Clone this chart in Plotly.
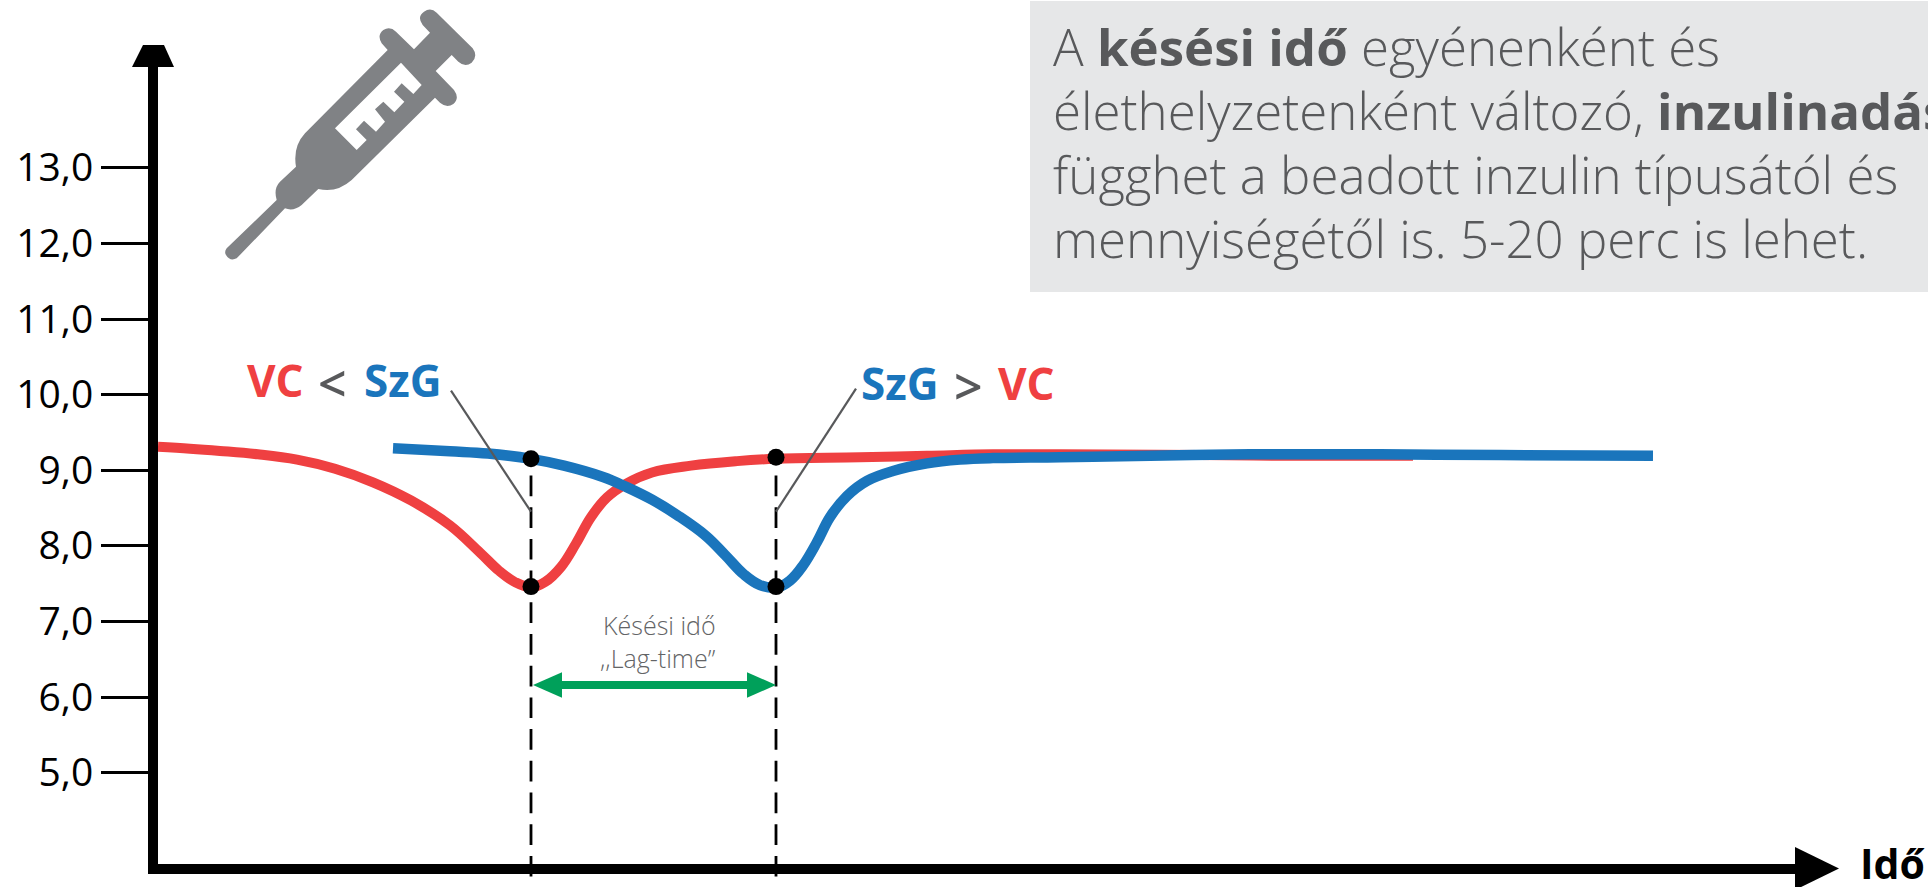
import plotly.graph_objects as go

# ---- data (x = time position, y = value) ----
tick_vals = [5, 6, 7, 8, 9, 10, 11, 12, 13]
tick_text = ["5,0", "6,0", "7,0", "8,0", "9,0", "10,0", "11,0", "12,0", "13,0"]

vc_x = [158, 190, 220, 258, 297, 335, 373, 411, 450, 480, 499, 515, 531, 545, 561, 576, 591, 607, 626, 652,
        691, 737, 775, 860, 927, 993, 1060, 1200, 1300, 1413]
vc_y = [9.31, 9.285, 9.255, 9.21, 9.14, 9.02, 8.84, 8.60, 8.27, 7.91, 7.67, 7.52, 7.45, 7.52, 7.72, 8.03, 8.38, 8.64, 8.82, 8.97,
        9.06, 9.12, 9.15, 9.17, 9.19, 9.21, 9.21, 9.20, 9.19, 9.19]

szg_x = [393, 450, 488, 531, 564, 603, 626, 652, 679, 706, 725, 744, 760, 777, 790, 803, 817, 830, 847, 867,
         893, 927, 960, 993, 1060, 1150, 1250, 1380, 1500, 1653]
szg_y = [9.29, 9.25, 9.22, 9.15, 9.06, 8.91, 8.78, 8.61, 8.39, 8.13, 7.88, 7.62, 7.48, 7.45, 7.54, 7.74, 8.05, 8.38, 8.66, 8.86,
         8.99, 9.09, 9.14, 9.16, 9.17, 9.19, 9.21, 9.21, 9.20, 9.19]

dot_x = [531, 531, 776, 776]
dot_y = [9.15, 7.46, 9.17, 7.46]

panel_lines = [
    "A <b>késési idő</b> egyénenként és",
    "élethelyzetenként változó, <b>inzulinadás</b>",
    "függhet a beadott inzulin típusától és",
    "mennyiségétől is. 5-20 perc is lehet.",
]

# ---- styling ----
W, H = 1928, 887
L, R, T, B = 158, 1795, 67, 864          # plot area in page pixels
RED, BLUE, GREEN, GREY = "#EF4041", "#1A75BC", "#00A05A", "#58595B"
FONT = "Open Sans"


def px(x):
    return (x - L) / (R - L)


def py(y):
    return (B - y) / (B - T)


def path(points, curves=None):
    """Closed polygon given in page pixels."""
    return "M" + " L".join(f"{px(x):.5f},{py(y):.5f}" for x, y in points) + " Z"


def zoom_path(cmds):
    """Icon outline: commands traced at 3x page scale."""
    out = []
    for c, pts in cmds:
        out.append(c + " ".join(f"{px(x / 3):.5f},{py(y / 3):.5f}" for x, y in pts))
    return " ".join(out) + " Z"


syringe = [
    ("M", [(680, 745)]), ("L", [(830, 600)]), ("Q", [(820, 565), (840, 545)]), ("L", [(888, 500)]),
    ("Q", [(878, 440), (915, 400)]), ("L", [(1163, 150)]), ("L", [(1145, 130)]), ("Q", [(1130, 105), (1150, 90)]),
    ("Q", [(1170, 78), (1188, 95)]), ("L", [(1242, 148)]), ("L", [(1290, 98)]), ("L", [(1268, 75)]),
    ("Q", [(1250, 50), (1272, 35)]), ("Q", [(1292, 20), (1310, 38)]), ("L", [(1418, 145)]),
    ("Q", [(1435, 168), (1415, 188)]), ("Q", [(1395, 203), (1375, 185)]), ("L", [(1355, 165)]), ("L", [(1307, 213)]),
    ("L", [(1362, 270)]), ("Q", [(1380, 295), (1360, 312)]), ("Q", [(1340, 325), (1320, 308)]), ("L", [(1305, 293)]),
    ("L", [(1055, 540)]), ("Q", [(1010, 580), (955, 567)]), ("L", [(905, 615)]), ("Q", [(880, 635), (855, 625)]),
    ("L", [(710, 775)]), ("Q", [(690, 785), (678, 765)]), ("Q", [(672, 755), (680, 745)]),
]
window = [(1203, 188), (1265, 255), (1240, 282), (1205, 250), (1182, 275), (1213, 305), (1183, 337), (1150, 305),
          (1125, 328), (1155, 365), (1128, 395), (1092, 362), (1068, 388), (1100, 420), (1070, 450), (1005, 385)]

shapes = []


def add_line(x0, y0, x1, y1, color, width, dash=None):
    shapes.append(dict(type="line", xref="paper", yref="paper", x0=px(x0), y0=py(y0), x1=px(x1), y1=py(y1),
                       line=dict(color=color, width=width, dash=dash or "solid")))


def add_poly(points, color):
    shapes.append(dict(type="path", xref="paper", yref="paper", path=path(points), fillcolor=color,
                       line=dict(width=0)))


# panel
shapes.append(dict(type="rect", xref="paper", yref="paper", x0=px(1030), x1=px(1928), y0=py(1), y1=py(292),
                   fillcolor="#E6E7E8", line=dict(width=0), layer="below"))
# axis arrow heads
add_poly([(143, 45), (164, 45), (174, 67), (132, 67)], "#000000")
add_poly([(1795, 847), (1839, 868.5), (1795, 890)], "#000000")
# syringe
shapes.append(dict(type="path", xref="paper", yref="paper", path=zoom_path(syringe), fillcolor="#808285",
                   line=dict(width=0)))
shapes.append(dict(type="path", xref="paper", yref="paper",
                   path=zoom_path([("M", [window[0]])] + [("L", [p]) for p in window[1:]]),
                   fillcolor="#FFFFFF", line=dict(width=0)))
# dashed guides
for xg in (531, 776):
    add_line(xg, 475.5, xg, 887, "#000000", 2.8, "20.7px,11px")
# callouts
add_line(451, 390.7, 531, 511.7, GREY, 2.2)
add_line(856, 388.6, 776, 511.7, GREY, 2.2)
# lag-time arrow
add_line(555, 685, 755, 685, GREEN, 8)
add_poly([(533, 685), (562, 672.3), (562, 697.7)], GREEN)
add_poly([(776, 685), (747, 672.3), (747, 697.7)], GREEN)

annotations = []


def add_text(x, baseline, text, size, color, anchor="left", weight=None):
    font = dict(family=FONT, size=size, color=color)
    if weight:
        font["weight"] = weight
    annotations.append(dict(xref="paper", yref="paper", x=px(x), y=py(baseline - 0.388 * size), text=text,
                            showarrow=False, xanchor=anchor, yanchor="middle", align=anchor, font=font,
                            borderpad=0, borderwidth=0))


# panel text: one block, line pitch set by the block size (49.2 x 1.3 = 64 px), glyphs at 51 px
PANEL = 51
panel_text = "<br>".join(f'<span style="font-size:{PANEL}px">{t}</span>' for t in panel_lines)
add_text(1053, 161, panel_text, 49.2, GREY, weight=300)
# comparison labels, piece by piece
add_text(247, 397, "<b>VC</b>", 44, RED)
add_text(318, 402, "&lt;", 50, GREY, weight=600)
add_text(364, 397, "<b>SzG</b>", 44, BLUE)
add_text(861, 400, "<b>SzG</b>", 44, BLUE)
add_text(954, 405, "&gt;", 50, GREY, weight=600)
add_text(998, 400, "<b>VC</b>", 44, RED)
add_text(716, 635, "Késési idő", 25, "#636466", anchor="right", weight=300)
add_text(716, 668, ",,Lag-time”", 25, "#636466", anchor="right", weight=300)
add_text(1860, 879, "<b>Idő</b>", 41, "#000000")

fig = go.Figure()
fig.add_trace(go.Scatter(x=vc_x, y=vc_y, mode="lines", name="VC", cliponaxis=False,
                         line=dict(color=RED, width=10, shape="spline", smoothing=1.1)))
fig.add_trace(go.Scatter(x=szg_x, y=szg_y, mode="lines", name="SzG", cliponaxis=False,
                         line=dict(color=BLUE, width=10.5, shape="spline", smoothing=1.1)))
fig.add_trace(go.Scatter(x=dot_x, y=dot_y, mode="markers", name="points", cliponaxis=False,
                         marker=dict(color="#000000", size=17)))

fig.update_layout(
    width=W, height=H, autosize=False, showlegend=False,
    paper_bgcolor="#FFFFFF", plot_bgcolor="#FFFFFF",
    margin=dict(l=L, r=W - R, t=T, b=H - B, pad=0),
    xaxis=dict(range=[L, R], showgrid=False, zeroline=False, showticklabels=False, ticks="",
               showline=True, linecolor="#000000", linewidth=10),
    yaxis=dict(range=[5 + (772.6 - B) / 75.6, 5 + (772.6 - T) / 75.6], showgrid=False, zeroline=False,
               tickmode="array", tickvals=tick_vals, ticktext=tick_text, ticks="outside", ticklen=47, tickwidth=3,
               tickcolor="#000000", tickfont=dict(family=FONT, size=39, color="#000000"),
               showline=True, linecolor="#000000", linewidth=10),
    shapes=shapes, annotations=annotations,
)
fig.write_html("out.html", config=dict(displayModeBar=False),
               post_script="document.body.style.margin='0';document.body.style.overflow='hidden';")
